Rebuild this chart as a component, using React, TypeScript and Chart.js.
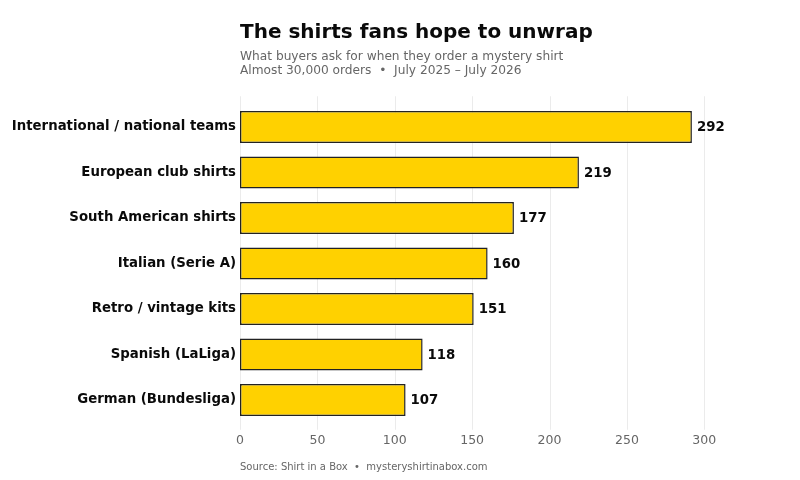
import React, { useEffect, useRef } from "react";
import { Chart, registerables } from "chart.js";

Chart.register(...registerables);

const TITLE = "The shirts fans hope to unwrap";
const SUBTITLE_LINES = [
  "What buyers ask for when they order a mystery shirt",
  "Almost 30,000 orders  \u2022  July 2025 \u2013 July 2026",
];
const SOURCE = "Source: Shirt in a Box  \u2022  mysteryshirtinabox.com";

const categories = [
  "International / national teams",
  "European club shirts",
  "South American shirts",
  "Italian (Serie A)",
  "Retro / vintage kits",
  "Spanish (LaLiga)",
  "German (Bundesliga)",
];
const values = [292, 219, 177, 160, 151, 118, 107];
const xTicksMax = 336;

const FONT = '"DejaVu Sans", sans-serif';

const gridPlugin = {
  id: "extGrid",
  beforeDatasetsDraw(chart: any) {
    const { ctx, chartArea } = chart;
    const xs = chart.scales.x;
    ctx.save();
    ctx.strokeStyle = "#ebebeb";
    ctx.lineWidth = 1;
    xs.ticks.forEach((t: any) => {
      const x = Math.round(xs.getPixelForValue(t.value)) + 0.5;
      ctx.beginPath();
      ctx.moveTo(x, chartArea.top - 8);
      ctx.lineTo(x, chartArea.bottom + 7);
      ctx.stroke();
    });
    ctx.restore();
  },
};

const labelPlugin = {
  id: "valueLabels",
  afterDatasetsDraw(chart: any) {
    const { ctx } = chart;
    const meta = chart.getDatasetMeta(0);
    ctx.save();
    ctx.font = `bold 13.3px ${FONT}`;
    ctx.fillStyle = "#0a0a0a";
    ctx.textAlign = "left";
    ctx.textBaseline = "middle";
    meta.data.forEach((el: any, i: number) => {
      ctx.fillText(String(values[i]), el.x + 5, el.y + 1);
    });
    ctx.restore();
  },
};

const textPlugin = {
  id: "texts",
  afterDraw(chart: any) {
    const { ctx, chartArea } = chart;
    const x = chartArea.left;
    ctx.save();
    ctx.textAlign = "left";
    ctx.textBaseline = "middle";
    ctx.fillStyle = "#0a0a0a";
    ctx.font = `bold 20px ${FONT}`;
    ctx.fillText(TITLE, x, 32.5);
    ctx.fillStyle = "#666666";
    ctx.font = `12.2px ${FONT}`;
    SUBTITLE_LINES.forEach((l, i) => ctx.fillText(l, x, 56.5 + i * 14.5));
    ctx.font = `10px ${FONT}`;
    ctx.fillText(SOURCE, x, 467);
    ctx.restore();
  },
};

export default function App() {
  const ref = useRef<HTMLCanvasElement | null>(null);
  useEffect(() => {
    if (!ref.current) return;
    const chart = new Chart(ref.current, {
      type: "bar",
      data: {
        labels: categories,
        datasets: [
          {
            data: values,
            backgroundColor: "#FFD100",
            borderColor: "#222222",
            borderWidth: 1.5,
            borderSkipped: false,
            barPercentage: 0.7,
            categoryPercentage: 1,
          },
        ],
      },
      options: {
        indexAxis: "y",
        responsive: false,
        animation: false,
        layout: { padding: { top: 104.25, right: 40, bottom: 30, left: 0 } },
        plugins: {
          legend: { display: false },
          tooltip: { enabled: false },
          title: { display: false },
        },
        scales: {
          x: {
            min: 0,
            max: xTicksMax,
            grid: { display: false, drawTicks: false },
            border: { display: false },
            ticks: {
              stepSize: 50,
              includeBounds: false,
              color: "#666666",
              font: { family: FONT, size: 12.5 },
              padding: 10,
              maxRotation: 0,
            },
            afterFit: (s: any) => {
              s.height = 27.25;
            },
          },
          y: {
            grid: { display: false, drawTicks: false },
            border: { display: false },
            ticks: {
              color: "#0a0a0a",
              font: { family: FONT, size: 13.3, weight: "bold" },
              padding: 4,
            },
            afterFit: (s: any) => {
              s.width = 240;
            },
          },
        },
      },
      plugins: [gridPlugin, labelPlugin, textPlugin],
    });
    return () => chart.destroy();
  }, []);
  return (
    <div style={{ position: "absolute", left: 0, top: 0, width: 800, height: 480, background: "#fff" }}>
      <canvas ref={ref} width={800} height={480} />
    </div>
  );
}
